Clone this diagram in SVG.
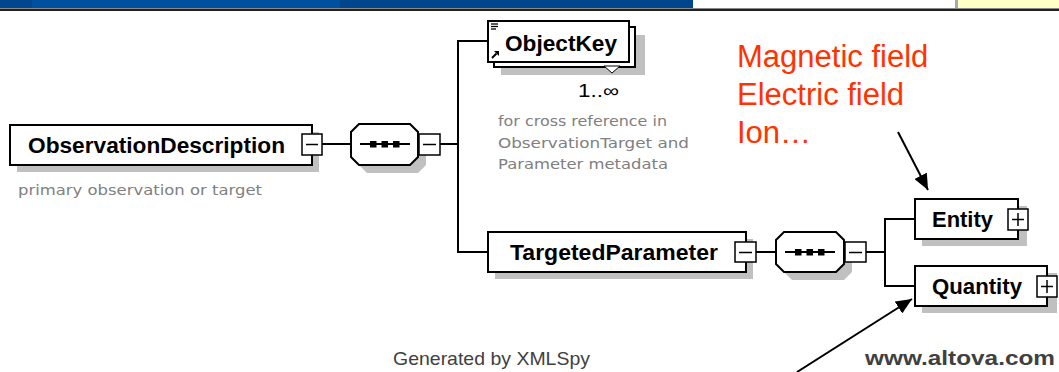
<svg xmlns="http://www.w3.org/2000/svg" width="1059" height="372" viewBox="0 0 1059 372">
<style>
.box{fill:#fff;stroke:#000;stroke-width:2}
.sh{fill:#c0c0c0}
.btn{fill:#fff;stroke:#000;stroke-width:1.5}
.ln{stroke:#000;stroke-width:2;fill:none}
.lbl{font-family:"Liberation Sans",Arial,sans-serif;font-weight:bold;font-size:22.5px;fill:#000}
.note{font-family:"DejaVu Sans","Liberation Sans",sans-serif;font-size:14.5px;fill:#808080}
.red{font-family:"Liberation Sans",Arial,sans-serif;font-size:31px;fill:#ff3300}
</style>
<defs>
<marker id="ah" markerUnits="userSpaceOnUse" markerWidth="18" markerHeight="14" refX="16" refY="7" orient="auto">
<path d="M0,0 L16,7 L0,14 z" fill="#000"/>
</marker>
<g id="seqIcon">
<line x1="9" y1="20" x2="59" y2="20" stroke="#000" stroke-width="2"/>
<rect x="19" y="17" width="6.5" height="6.5" fill="#000"/>
<rect x="30.5" y="17" width="6.5" height="6.5" fill="#000"/>
<rect x="42" y="17" width="6.5" height="6.5" fill="#000"/>
</g>
</defs>

<g id="topbar">
<rect x="0" y="0" width="693" height="8" fill="#0050a0"/>
<rect x="0" y="0" width="32" height="8" fill="#00478f"/>
<rect x="340" y="0" width="353" height="8" fill="#00468c"/>
<rect x="693" y="0" width="262" height="8" fill="#ffffff"/>
<rect x="955" y="0" width="3" height="8" fill="#a8a8a8"/>
<rect x="958" y="0" width="101" height="8" fill="#ffffc8"/>
<rect x="0" y="8" width="1059" height="1" fill="#888"/>
<rect x="0" y="9" width="1059" height="2" fill="#222"/>
</g>

<g id="connectors">
<line class="ln" x1="322" y1="144" x2="351" y2="144"/>
<line class="ln" x1="440" y1="144" x2="458" y2="144"/>
<polyline class="ln" points="488,41 458,41 458,252 488,252"/>
<line class="ln" x1="756" y1="252" x2="776" y2="252"/>
<line class="ln" x1="866" y1="252" x2="885" y2="252"/>
<polyline class="ln" points="915,219 885,219 885,286 915,286"/>
<line x1="898" y1="132" x2="928" y2="190" stroke="#000" stroke-width="2" marker-end="url(#ah)"/>
<line x1="797" y1="372" x2="912" y2="299" stroke="#000" stroke-width="2" marker-end="url(#ah)"/>
</g>

<g id="ObservationDescription">
<rect class="sh" x="17" y="132" width="302" height="40"/>
<rect class="box" x="10" y="125" width="302" height="40"/>
<text class="lbl" x="28" y="153" textLength="257" lengthAdjust="spacingAndGlyphs">ObservationDescription</text>
<rect class="btn" x="302" y="134" width="20" height="21"/>
<line x1="306" y1="144.5" x2="318" y2="144.5" stroke="#000" stroke-width="1.5"/>
<text class="note" x="18" y="195" textLength="244" lengthAdjust="spacingAndGlyphs">primary observation or target</text>
</g>

<g id="seq1">
<polygon class="sh" points="367,132 418,132 426,140 426,165 418,173 367,173 359,165 359,140"/>
<polygon class="box" points="359,124 410,124 418,132 418,157 410,165 359,165 351,157 351,132"/>
<use href="#seqIcon" x="351" y="124"/>
<rect class="btn" x="419" y="134" width="21" height="21"/>
<line x1="423" y1="144.5" x2="436" y2="144.5" stroke="#000" stroke-width="1.5"/>
</g>

<g id="ObjectKey">
<rect class="sh" x="501" y="35" width="144" height="40"/>
<rect class="box" x="494" y="27" width="141" height="40"/>
<rect class="box" x="488" y="21" width="141" height="41"/>
<line x1="491" y1="24" x2="498" y2="24" stroke="#000" stroke-width="1.3"/>
<line x1="491" y1="26.5" x2="498" y2="26.5" stroke="#000" stroke-width="1.3"/>
<line x1="491" y1="29" x2="496" y2="29" stroke="#000" stroke-width="1.3"/>
<line x1="492" y1="58" x2="496.5" y2="53.5" stroke="#000" stroke-width="2"/>
<polygon points="494,51 499,51 499,56" fill="#000"/>
<text class="lbl" x="505" y="51" textLength="112" lengthAdjust="spacingAndGlyphs">ObjectKey</text>
<polygon points="604,66 620,66 612,73" fill="#fff" stroke="#000" stroke-width="1"/>
<text x="578" y="97" font-family="Liberation Sans,Arial,sans-serif" font-size="18" fill="#000" textLength="41" lengthAdjust="spacingAndGlyphs">1..∞</text>
<text class="note" x="498" y="126" textLength="169" lengthAdjust="spacingAndGlyphs">for cross reference in</text>
<text class="note" x="498" y="148" textLength="191" lengthAdjust="spacingAndGlyphs">ObservationTarget and</text>
<text class="note" x="498" y="169" textLength="170" lengthAdjust="spacingAndGlyphs">Parameter metadata</text>
</g>

<g id="TargetedParameter">
<rect class="sh" x="495" y="239" width="258" height="40"/>
<rect class="box" x="488" y="232" width="258" height="40"/>
<text class="lbl" x="510" y="260" textLength="208" lengthAdjust="spacingAndGlyphs">TargetedParameter</text>
<rect class="btn" x="735" y="242" width="21" height="20"/>
<line x1="739" y1="252.5" x2="752" y2="252.5" stroke="#000" stroke-width="1.5"/>
</g>

<g id="seq2">
<polygon class="sh" points="792,240 844,240 852,248 852,272 844,280 792,280 784,272 784,248"/>
<polygon class="box" points="784,232 836,232 844,240 844,264 836,272 784,272 776,264 776,240"/>
<use href="#seqIcon" x="776" y="232"/>
<rect class="btn" x="845" y="242" width="21" height="20"/>
<line x1="849" y1="252.5" x2="862" y2="252.5" stroke="#000" stroke-width="1.5"/>
</g>

<g id="Entity">
<rect class="sh" x="922" y="206" width="105" height="40"/>
<rect class="box" x="915" y="199" width="103" height="40"/>
<text class="lbl" x="932" y="227" textLength="61" lengthAdjust="spacingAndGlyphs">Entity</text>
<rect class="btn" x="1008" y="209" width="20" height="21"/>
<line x1="1012" y1="219.5" x2="1024" y2="219.5" stroke="#000" stroke-width="1.5"/>
<line x1="1018" y1="213" x2="1018" y2="226" stroke="#000" stroke-width="1.5"/>
</g>

<g id="Quantity">
<rect class="sh" x="922" y="273" width="135" height="40"/>
<rect class="box" x="915" y="266" width="132" height="40"/>
<text class="lbl" x="932" y="294" textLength="90" lengthAdjust="spacingAndGlyphs">Quantity</text>
<rect class="btn" x="1037" y="276" width="20" height="21"/>
<line x1="1041" y1="286.5" x2="1053" y2="286.5" stroke="#000" stroke-width="1.5"/>
<line x1="1047" y1="280" x2="1047" y2="293" stroke="#000" stroke-width="1.5"/>
</g>

<g id="annotation">
<text class="red" x="737" y="67">Magnetic field</text>
<text class="red" x="737" y="105">Electric field</text>
<text class="red" x="737" y="143">Ion…</text>
</g>

<g id="footer">
<text x="393" y="365" font-family="Liberation Sans,Arial,sans-serif" font-size="19" fill="#404040" textLength="197" lengthAdjust="spacingAndGlyphs">Generated by XMLSpy</text>
<text x="865" y="365" font-family="Liberation Sans,Arial,sans-serif" font-weight="bold" font-size="20" fill="#404040" textLength="190" lengthAdjust="spacingAndGlyphs">www.altova.com</text>
</g>
</svg>
